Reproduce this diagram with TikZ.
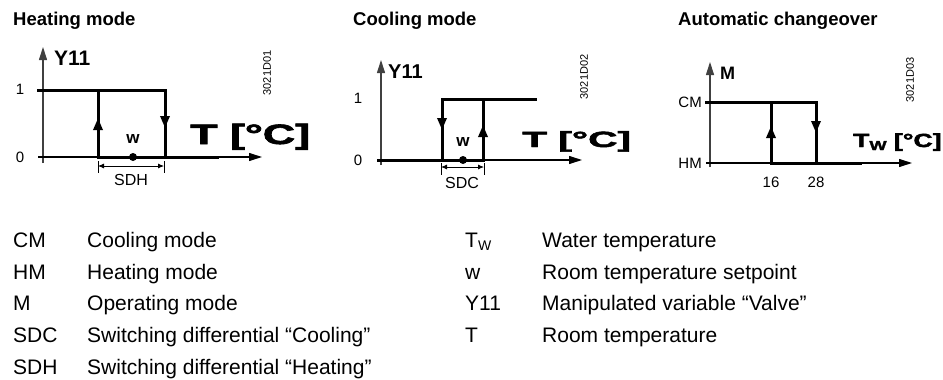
\documentclass[tikz,border=0pt]{standalone}
\usepackage{fontspec}
\setmainfont{Liberation Sans}
\newfontfamily\heavyfont[BoldFeatures={FakeBold=2}]{Liberation Sans}
\usetikzlibrary{arrows.meta}

\tikzset{
    yaxis/.style={line width=1.1pt, black!75, -{Triangle[length=13pt,width=8pt]}},
    xaxis/.style={line width=1.1pt, -{Triangle[length=13pt,width=8pt]}},
    curve/.style={line width=3pt, line cap=rect},
    flow/.style={line width=3pt, -{Triangle[length=12pt,width=9pt]}},
    dimline/.style={line width=0.8pt, {Latex[length=6pt,width=5pt]}-{Latex[length=6pt,width=5pt]}},
    dimtick/.style={line width=0.8pt},
    lbl/.style={inner sep=0pt, font=\fontsize{15}{15}\selectfont},
    title/.style={inner sep=0pt, anchor=base west, font=\fontsize{18.5}{18.5}\selectfont\bfseries},
    ylbl/.style={inner sep=0pt, anchor=base west, font=\fontsize{21}{21}\selectfont\bfseries},
    tlbl/.style={inner sep=0pt, anchor=base west},
    code/.style={inner sep=0pt, rotate=90, font=\fontsize{11}{11}\selectfont},
    legend/.style={inner sep=0pt, anchor=base west, font=\fontsize{21}{21}\selectfont}
}

\begin{document}
\begin{tikzpicture}[x=1pt, y=-1pt]
    \useasboundingbox (0,0) rectangle (943,380);

    \node[title] (th) at (13,25)  {Heating mode};
    \node[title] (tc) at (353,25) {Cooling mode};
    \node[title] (ta) at (678,25) {Automatic changeover};

    % heating mode
    \coordinate (hyb) at (43,163);
    \coordinate (hyt) at (43,47);
    \coordinate (hxl) at (38,157);
    \coordinate (hxr) at (262,157);
    \coordinate (h1l) at (38,90);
    \coordinate (h1r) at (165,90);
    \coordinate (h0r) at (165,157);
    \coordinate (h0l) at (98,157);
    \coordinate (h1m) at (98,90);
    \coordinate (hend) at (217,157);
    \coordinate (hup) at (98,118);
    \coordinate (hdn) at (165,128);
    \coordinate (hw) at (133,157);

    \draw [yaxis] (hyb) -- (hyt);
    \draw [xaxis] (hxl) -- (hxr);
    \draw [curve] (h1l) -- (h1r) -- (h0r);
    \draw [curve] (h0l) -- (h1m);
    \draw [curve] (h0l) -- (hend);
    \draw [flow]  (h0l) -- (hup);
    \draw [flow]  (h1r) -- (hdn);
    \fill (hw) circle (4pt);

    \node[ylbl] (hy) at (54,65) {Y11};
    \node[lbl] (h1) at (20,89) {1};
    \node[lbl] (h0) at (20,157) {0};
    \node[inner sep=0pt, font=\fontsize{17}{17}\selectfont\bfseries] (hwl) at (133,139) {w};
    \node[tlbl, font=\fontsize{28}{28}\selectfont\heavyfont\bfseries] (ht)
        at (190,144) {\scalebox{1.6}[1]{T [°C]}};

    \coordinate (hs1) at (98,166);
    \coordinate (hs2) at (164,166);
    \draw [dimtick] (98,161) -- (98,173);
    \draw [dimtick] (164,161) -- (164,173);
    \draw [dimline] (hs1) -- (hs2);
    \node[lbl, font=\fontsize{16}{16}\selectfont] (hsd) at (131,180) {SDH};
    \node[code] (hc) at (267,73) {3021D01};

    % cooling mode
    \coordinate (cyb) at (381,165);
    \coordinate (cyt) at (381,60);
    \coordinate (cxl) at (378,160);
    \coordinate (cxr) at (582,160);
    \coordinate (c1l) at (442,99);
    \coordinate (c1r) at (535,99);
    \coordinate (c0l) at (442,160);
    \coordinate (c0r) at (483,160);
    \coordinate (c1m) at (483,99);
    \coordinate (cdn) at (442,130);
    \coordinate (cup) at (483,125);
    \coordinate (cw) at (463,160);

    \draw [yaxis] (cyb) -- (cyt);
    \draw [xaxis] (cxl) -- (cxr);
    \draw [curve] (c0l) -- (c1l) -- (c1r);
    \draw [curve] (cxl) -- (c0r) -- (c1m);
    \draw [flow]  (c1l) -- (cdn);
    \draw [flow]  (c0r) -- (cup);
    \fill (cw) circle (4pt);

    \node[ylbl, font=\fontsize{20}{20}\selectfont\bfseries] (cy) at (388,78) {Y11};
    \node[lbl] (c1) at (358,98) {1};
    \node[lbl] (c0) at (358,160) {0};
    \node[inner sep=0pt, font=\fontsize{17}{17}\selectfont\bfseries] (cwl) at (463,142) {w};
    \node[tlbl, font=\fontsize{22}{22}\selectfont\heavyfont\bfseries] (ct)
        at (522,147) {\scalebox{1.85}[1]{T [°C]}};

    \coordinate (cs1) at (441,167);
    \coordinate (cs2) at (484,167);
    \draw [dimtick] (441,163) -- (441,175);
    \draw [dimtick] (484,163) -- (484,175);
    \draw [dimline] (cs1) -- (cs2);
    \node[lbl, font=\fontsize{16}{16}\selectfont] (csd) at (462,183) {SDC};
    \node[code] (cc) at (584,77) {3021D02};

    % automatic changeover
    \coordinate (ayb) at (710,167);
    \coordinate (ayt) at (710,62);
    \coordinate (axl) at (706,163);
    \coordinate (axr) at (912,163);
    \coordinate (a1l) at (706,102);
    \coordinate (a1r) at (816,102);
    \coordinate (a0r) at (816,163);
    \coordinate (a0l) at (771,163);
    \coordinate (a1m) at (771,102);
    \coordinate (aend) at (860,163);
    \coordinate (aup) at (771,126);
    \coordinate (adn) at (816,133);

    \draw [yaxis] (ayb) -- (ayt);
    \draw [xaxis] (axl) -- (axr);
    \draw [curve] (a1l) -- (a1r) -- (a0r);
    \draw [curve] (a0l) -- (a1m);
    \draw [curve] (a0l) -- (aend);
    \draw [flow]  (a0l) -- (aup);
    \draw [flow]  (a1r) -- (adn);

    \node[ylbl, font=\fontsize{18}{18}\selectfont\bfseries] (am) at (720,79) {M};
    \node[lbl, anchor=east] (acm) at (702,102) {CM};
    \node[lbl, anchor=east] (ahm) at (702,163) {HM};
    \node[lbl] (a16) at (771,182) {16};
    \node[lbl] (a28) at (816,182) {28};
    \node[tlbl, font=\fontsize{19}{19}\selectfont\heavyfont\bfseries] (at)
        at (853,147) {\scalebox{1.4}[1]{T\raisebox{-3pt}{\fontsize{13}{13}\selectfont W} [°C]}};
    \node[code] (ac) at (910,80) {3021D03};

    % legend
    \node[legend] (l1) at (13,247.5)  {CM};
    \node[legend] (l2) at (13,279.2)  {HM};
    \node[legend] (l3) at (13,310.9)  {M};
    \node[legend] (l4) at (13,342.6)  {SDC};
    \node[legend] (l5) at (13,374.3)  {SDH};
    \node[legend] (d1) at (87,247.5)  {Cooling mode};
    \node[legend] (d2) at (87,279.2)  {Heating mode};
    \node[legend] (d3) at (87,310.9)  {Operating mode};
    \node[legend] (d4) at (87,342.6)  {Switching differential “Cooling”};
    \node[legend] (d5) at (87,374.3)  {Switching differential “Heating”};

    \node[legend] (r1) at (465,247.5) {T\raisebox{-3pt}{\fontsize{14}{14}\selectfont W}};
    \node[legend] (r2) at (465,279.2) {w};
    \node[legend] (r3) at (465,310.9) {Y11};
    \node[legend] (r4) at (465,342.6) {T};
    \node[legend] (e1) at (542,247.5) {Water temperature};
    \node[legend] (e2) at (542,279.2) {Room temperature setpoint};
    \node[legend] (e3) at (542,310.9) {Manipulated variable “Valve”};
    \node[legend] (e4) at (542,342.6) {Room temperature};
\end{tikzpicture}
\end{document}
